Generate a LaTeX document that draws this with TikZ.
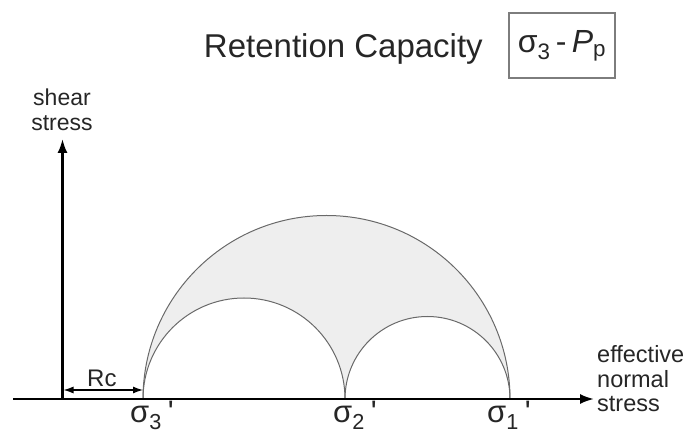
\documentclass[tikz,border=0pt]{standalone}
\usepackage{fontspec}
\setmainfont{Liberation Sans}
\usetikzlibrary{arrows.meta, positioning}
\definecolor{arcgray}{RGB}{105,105,105}
\definecolor{fillgray}{RGB}{238,238,238}
\definecolor{boxgray}{RGB}{125,125,125}
\newcommand{\sigl}[1]{σ\textsubscript{#1}\hspace{6pt}\textquotesingle}

\begin{document}
\begin{tikzpicture}[
  x=1pt, y=1pt,
  axis/.style={line width=2.2pt, -{Latex[length=14pt, width=10pt]}},
  circ/.style={draw=arcgray, line width=1pt},
  dim/.style={line width=1.3pt, {Latex[length=10pt, width=7pt]}-{Latex[length=10pt, width=7pt]}},
  lbl/.style={font=\fontsize{23}{25}\selectfont, align=center, inner sep=0pt, text=black!85},
  siglbl/.style={font=\fontsize{31}{31}\selectfont, inner sep=0pt, anchor=base west, text=black!85}
]
\useasboundingbox (0,0) rectangle (687,433);
\coordinate (O) at (62.5,34);
\coordinate (xstart) at (13,34);
\coordinate (xend) at (594,34);
\coordinate (yend) at (62.5,294);
\coordinate (s3) at (143,34);
\coordinate (s2) at (345,34);
\coordinate (s1) at (510,34);
\coordinate (rcl) at (63.5,43);
\coordinate (rcr) at (143,43);

% shaded band between the circles
\fill[fillgray] (s3) arc[start angle=180, end angle=0, radius=183.5]
  arc[start angle=0, end angle=180, radius=82.5]
  arc[start angle=0, end angle=180, radius=101] -- cycle;
\draw[circ] (s3) arc[start angle=180, end angle=0, radius=183.5];
\draw[circ] (s2) arc[start angle=180, end angle=0, radius=82.5];
\draw[circ] (s3) arc[start angle=180, end angle=0, radius=101];

% axes
\draw[axis] (xstart) -- (xend);
\draw[axis] (O) -- (yend);
\draw[dim] (rcl) -- (rcr);

\node[lbl, font=\fontsize{24}{24}\selectfont, anchor=base west] (rc) at (87,46) {Rc};
\node[lbl] (shear) at (62,323.5) {shear\\stress};
\node[lbl, font=\fontsize{23.5}{24.5}\selectfont, align=left, anchor=west] (eff) at (597,54) {effective\\normal\\stress};

\node[siglbl] (l3) at (130,10) {\sigl{3}};
\node[siglbl] (l2) at (333,10) {\sigl{2}};
\node[siglbl] (l1) at (487,10) {\sigl{1}};

\node[font=\fontsize{33}{33}\selectfont, anchor=base east, inner sep=0pt, text=black!85] (title) at (483,375) {Retention Capacity};
\node[draw=boxgray, line width=1.2pt, minimum width=106pt, minimum height=65pt,
      font=\fontsize{32}{32}\selectfont, text=black!85] (pp) at (562,387.5)
      {σ\textsubscript{3}\,-\,\textit{P}\textsubscript{p}};
\end{tikzpicture}
\end{document}
